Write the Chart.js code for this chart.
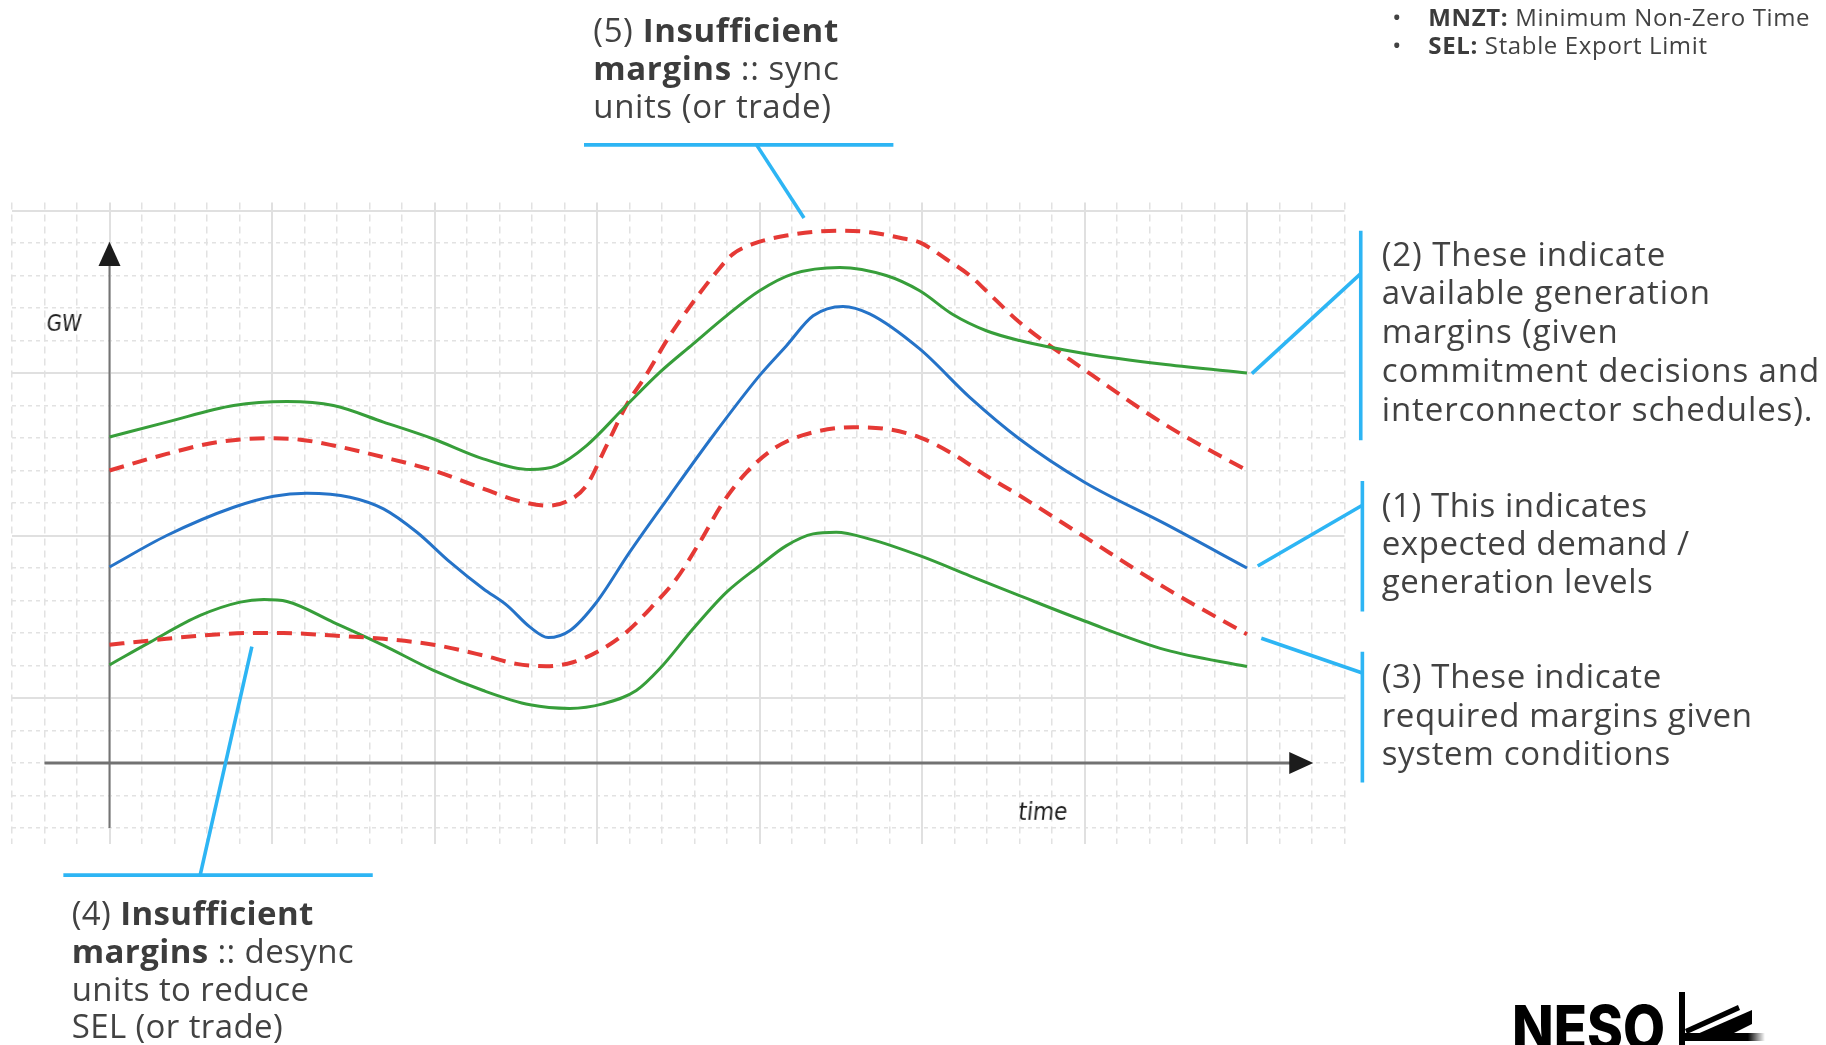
<!DOCTYPE html>
<html><head><meta charset="utf-8">
<script src="https://cdn.jsdelivr.net/npm/chart.js@4.4.1/dist/chart.umd.min.js"></script>
<style>
html,body{margin:0;padding:0;background:#fff;width:1826px;height:1045px;overflow:hidden;}
#wrap{position:relative;width:1826px;height:1045px;overflow:hidden;}
canvas{position:absolute;left:0;top:0;}
.note{position:absolute;font-family:'Open Sans',sans-serif;font-weight:500;color:#424242;white-space:nowrap;}
.note .ln{display:block;position:relative;}
.note b{font-weight:700;color:#3c3c3c;}
.bul{position:absolute;left:-36px;}
.hand{position:absolute;font-family:'DejaVu Sans Condensed','DejaVu Sans',sans-serif;color:#1e1e1e;transform:translate(-50%,-50%) skewX(-6deg);line-height:1;}
#neso{position:absolute;font-family:Inter,sans-serif;font-weight:800;font-size:62px;line-height:1;color:#000;transform-origin:0 0;white-space:nowrap;}
</style></head><body>
<div id="wrap">
<canvas id="c" width="1826" height="1045"></canvas>

<div class="note" data-left="1428.3" data-base="26" data-lh="27.5" data-fs="24" data-w="295">
<div class="ln"><span class="bul">•</span><b>MNZT:</b> <span class="ref">Minimum Non-Zero Time</span></div>
<div class="ln"><span class="bul">•</span><b>SEL:</b> Stable Export Limit</div>
</div>

<div class="note" data-left="593.3" data-base="41.7" data-lh="38.3" data-fs="33" data-w="238.3">
<div class="ln">(5) <b>Insufficient</b></div>
<div class="ln"><b>margins</b> :: sync</div>
<div class="ln"><span class="ref">units (or trade)</span></div>
</div>

<div class="note" data-left="1381.7" data-base="265.7" data-lh="38.75" data-fs="33" data-w="438.3">
<div class="ln">(2) These indicate</div>
<div class="ln">available generation</div>
<div class="ln">margins (given</div>
<div class="ln"><span class="ref">commitment decisions and</span></div>
<div class="ln">interconnector schedules).</div>
</div>

<div class="note" data-left="1381.7" data-base="516.7" data-lh="38.3" data-fs="33" data-w="271.7">
<div class="ln">(1) This indicates</div>
<div class="ln">expected demand /</div>
<div class="ln"><span class="ref">generation levels</span></div>
</div>

<div class="note" data-left="1381.7" data-base="688.3" data-lh="38.35" data-fs="33" data-w="371">
<div class="ln">(3) These indicate</div>
<div class="ln"><span class="ref">required margins given</span></div>
<div class="ln">system conditions</div>
</div>

<div class="note" data-left="71.7" data-base="925" data-lh="37.8" data-fs="33" data-w="237.7">
<div class="ln">(4) <b>Insufficient</b></div>
<div class="ln"><b>margins</b> :: desync</div>
<div class="ln"><span class="ref">units to reduce</span></div>
<div class="ln">SEL (or trade)</div>
</div>

<div class="hand" style="left:64px;top:324px;font-size:22px;">GW</div>
<div class="hand" style="left:1043px;top:812px;font-size:24px;">time</div>

<div id="neso">NESO</div>
<svg style="position:absolute;left:1670px;top:985px;" width="110" height="60" viewBox="1670 985 110 60">
<defs><linearGradient id="fade" x1="0" x2="1" y1="0" y2="0"><stop offset="0.8" stop-color="#000"/><stop offset="1" stop-color="#000" stop-opacity="0"/></linearGradient></defs>
<rect x="1679" y="992" width="6" height="53" fill="#000"/>
<rect x="1679" y="1033" width="86" height="8" fill="url(#fade)"/>
<polygon points="1685,1029 1738,1005 1740,1010 1687,1034" fill="#000"/>
<polygon points="1695,1035 1752,1010 1752,1024 1730,1035" fill="#000"/>
</svg>
</div>

<script>
// ---- data (grid units: x = time, y = GW) ----
const availUpperX = [0, 1.76, 3.82, 5.46, 6.89, 8.43, 9.97, 11.5, 12.94, 13.76, 14.67, 15.9, 16.93, 17.95, 18.98, 20.0, 21.03, 22.47, 23.9, 24.93, 25.95, 26.98, 28.0, 30, 32.5, 35];
const availUpperY = [10.03, 10.49, 11.0, 11.12, 11.0, 10.49, 9.97, 9.36, 9.03, 9.15, 9.76, 11.0, 12.02, 12.89, 13.76, 14.53, 15.05, 15.25, 15.0, 14.53, 13.8, 13.3, 13.0, 12.6, 12.26, 12.0];

const reqUpperX = [0, 1.76, 3.3, 4.84, 5.87, 6.89, 8.43, 9.97, 11.5, 12.53, 13.46, 14.07, 14.67, 15.29, 15.9, 16.5, 17.24, 17.95, 18.67, 19.18, 19.8, 20.83, 22.47, 23.4, 24.42, 24.93, 25.75, 26.47, 27.18, 28.0, 30, 32.5, 35];
const reqUpperY = [9.0, 9.51, 9.87, 9.99, 9.95, 9.77, 9.41, 9.0, 8.44, 8.08, 7.92, 8.05, 8.53, 9.76, 11.0, 11.92, 13.15, 14.17, 15.1, 15.66, 15.97, 16.23, 16.38, 16.33, 16.14, 16.02, 15.5, 15.0, 14.33, 13.56, 12.1, 10.4, 9.0];

const demandX = [0, 1.76, 3.82, 5.05, 6.07, 7.4, 8.43, 9.46, 10.48, 11.5, 12.23, 12.94, 13.5, 14.16, 14.98, 16.0, 17.24, 18.57, 20.0, 20.83, 21.65, 22.57, 23.39, 24.93, 26.47, 28.0, 30, 32.5, 35];
const demandY = [6.03, 7.0, 7.87, 8.21, 8.3, 8.18, 7.82, 7.1, 6.18, 5.36, 4.85, 4.18, 3.86, 4.07, 4.94, 6.48, 8.23, 10.07, 11.92, 12.84, 13.76, 14.05, 13.82, 12.74, 11.25, 9.97, 8.64, 7.35, 6.0];

const reqLowerX = [0, 1.25, 2.79, 4.33, 5.35, 6.89, 8.43, 9.97, 11.5, 12.53, 13.44, 14.26, 15.08, 15.9, 16.72, 17.44, 18.16, 18.88, 19.6, 20.42, 21.34, 22.88, 23.9, 24.93, 25.95, 26.98, 28.0, 30, 32.5, 35];
const reqLowerY = [3.64, 3.77, 3.92, 4.0, 4.0, 3.92, 3.82, 3.64, 3.31, 3.05, 2.98, 3.1, 3.46, 4.02, 4.84, 5.66, 6.79, 8.02, 8.94, 9.66, 10.09, 10.33, 10.28, 10.02, 9.51, 8.84, 8.23, 6.96, 5.38, 3.96];

const availLowerX = [0, 1.25, 2.79, 4.02, 4.74, 5.46, 6.89, 8.43, 9.97, 11.5, 12.94, 14.16, 15.18, 16.21, 16.93, 17.95, 18.98, 20.0, 20.83, 21.65, 22.36, 23.39, 24.93, 26.47, 28.0, 30, 32.5, 35];
const availLowerY = [3.02, 3.72, 4.54, 4.95, 5.03, 4.97, 4.33, 3.62, 2.85, 2.23, 1.79, 1.68, 1.82, 2.23, 2.9, 4.12, 5.25, 6.07, 6.69, 7.05, 7.1, 6.89, 6.38, 5.76, 5.15, 4.37, 3.48, 2.97];

// grid ticks
const xMajorTicks = [0, 5, 10, 15, 20, 25, 30, 35];
const xMinorTicks = [-3,-2,-1,1,2,3,4,6,7,8,9,11,12,13,14,16,17,18,19,21,22,23,24,26,27,28,29,31,32,33,34,36,37,38];
const yMajorTicks = [2, 7, 12, 17];
const yMinorTicks = [-2,-1,0,1,3,4,5,6,8,9,10,11,13,14,15,16];
const X_RANGE = [-3, 38];
const Y_RANGE = [-2.5, 17.25];

// ---- text block placement ----
document.querySelectorAll('.note').forEach(el => {
  const fs = +el.dataset.fs, lh = +el.dataset.lh;
  el.style.fontSize = fs + 'px';
  el.style.lineHeight = lh + 'px';
  el.style.left = el.dataset.left + 'px';
  el.style.top = '0px';
  const ref = el.querySelector('.ref');
  const w = ref.getBoundingClientRect().width;
  const n = ref.textContent.length;
  el.style.letterSpacing = ((+el.dataset.w - w) / n) + 'px';
  const probe = document.createElement('span');
  probe.style.cssText = 'display:inline-block;width:0;height:0;vertical-align:baseline;';
  el.querySelector('.ln').appendChild(probe);
  const b = probe.getBoundingClientRect().top - el.getBoundingClientRect().top;
  el.style.top = (+el.dataset.base - b) + 'px';
});
(function(){
  const el = document.getElementById('neso');
  el.style.left = '1511.7px'; el.style.top = '0px';
  const w = el.getBoundingClientRect().width;
  const probe = document.createElement('span');
  probe.style.cssText = 'display:inline-block;width:0;height:0;vertical-align:baseline;';
  el.appendChild(probe);
  const b = probe.getBoundingClientRect().top - el.getBoundingClientRect().top;
  el.style.top = (1050 - b) + 'px';
  el.style.transform = 'scaleX(' + (153 / w) + ')';
})();

// ---- chart ----
const pts = (xs, ys) => xs.map((x, i) => ({x, y: ys[i]}));
const GREEN = '#379e3a', BLUE = '#2573c8', RED = '#e53935', CALL = '#2db5f4';

const callouts = [
  [[14.6, 19.02], [24.12, 19.02]], [[19.91, 19.02], [21.37, 16.77]],
  [[35.15, 11.98], [38.5, 15.06]], [[38.5, 16.38], [38.5, 9.93]],
  [[35.33, 6.06], [38.55, 7.93]], [[38.55, 8.68], [38.55, 4.66]],
  [[35.44, 3.84], [38.55, 2.77]], [[38.55, 3.42], [38.55, -0.6]],
  [[4.38, 3.58], [2.79, -3.45]], [[-1.42, -3.45], [8.1, -3.45]]
];

const decor = {
  id: 'decor',
  beforeDatasetsDraw(chart) {
    const {ctx} = chart; const x = chart.scales.x, y = chart.scales.y;
    const px = v => x.getPixelForValue(v), py = v => y.getPixelForValue(v);
    ctx.save();
    ctx.lineCap = 'butt';
    ctx.strokeStyle = '#747474'; ctx.lineWidth = 2;
    ctx.beginPath(); ctx.moveTo(px(0), py(-2.0)); ctx.lineTo(px(0), py(15.4)); ctx.stroke();
    ctx.strokeStyle = '#727272'; ctx.lineWidth = 3.2;
    ctx.beginPath(); ctx.moveTo(px(-2.0), py(0)); ctx.lineTo(px(36.4), py(0)); ctx.stroke();
    ctx.fillStyle = '#1c1c1c';
    ctx.beginPath(); ctx.moveTo(px(0), py(16.04)); ctx.lineTo(px(0) - 11, py(15.29)); ctx.lineTo(px(0) + 11, py(15.29)); ctx.closePath(); ctx.fill();
    ctx.beginPath(); ctx.moveTo(px(37.04), py(0)); ctx.lineTo(px(36.3), py(0) - 11); ctx.lineTo(px(36.3), py(0) + 11); ctx.closePath(); ctx.fill();
    ctx.restore();
  },
  afterDraw(chart) {
    const {ctx} = chart; const x = chart.scales.x, y = chart.scales.y;
    ctx.save();
    ctx.strokeStyle = CALL; ctx.lineWidth = 3.6; ctx.lineCap = 'butt';
    callouts.forEach(([a, b]) => {
      ctx.beginPath();
      ctx.moveTo(x.getPixelForValue(a[0]), y.getPixelForValue(a[1]));
      ctx.lineTo(x.getPixelForValue(b[0]), y.getPixelForValue(b[1]));
      ctx.stroke();
    });
    ctx.restore();
  }
};

const setTicks = vals => scale => { scale.ticks = vals.map(v => ({value: v})); };
const solid = {color: '#e0e0e0', lineWidth: 2, drawTicks: false};
const dashed = {color: '#e2e2e2', lineWidth: 1.5, drawTicks: false};

new Chart(document.getElementById('c'), {
  type: 'line',
  data: {
    datasets: [
      {data: pts(availUpperX, availUpperY), borderColor: GREEN, borderWidth: 3},
      {data: pts(reqUpperX, reqUpperY), borderColor: RED, borderWidth: 4, borderDash: [15, 9]},
      {data: pts(demandX, demandY), borderColor: BLUE, borderWidth: 3},
      {data: pts(reqLowerX, reqLowerY), borderColor: RED, borderWidth: 4, borderDash: [15, 9]},
      {data: pts(availLowerX, availLowerY), borderColor: GREEN, borderWidth: 3}
    ]
  },
  options: {
    responsive: false, animation: false, devicePixelRatio: 1,
    layout: {padding: {left: 12, right: 481.5, top: 202.4, bottom: 200.75}},
    elements: {point: {radius: 0}, line: {cubicInterpolationMode: 'monotone', fill: false}},
    plugins: {legend: {display: false}, tooltip: {enabled: false}},
    scales: {
      x2: {type: 'linear', position: 'bottom', min: X_RANGE[0], max: X_RANGE[1], afterBuildTicks: setTicks(xMinorTicks),
           ticks: {display: false}, grid: dashed, border: {display: false, dash: [7, 5]}},
      y2: {type: 'linear', position: 'left', min: Y_RANGE[0], max: Y_RANGE[1], afterBuildTicks: setTicks(yMinorTicks),
           ticks: {display: false}, grid: dashed, border: {display: false, dash: [4, 4]}},
      x: {type: 'linear', position: 'bottom', min: X_RANGE[0], max: X_RANGE[1], afterBuildTicks: setTicks(xMajorTicks),
          ticks: {display: false}, grid: solid, border: {display: false}},
      y: {type: 'linear', position: 'left', min: Y_RANGE[0], max: Y_RANGE[1], afterBuildTicks: setTicks(yMajorTicks),
          ticks: {display: false}, grid: solid, border: {display: false}}
    }
  },
  plugins: [decor]
});
</script>
</body></html>
